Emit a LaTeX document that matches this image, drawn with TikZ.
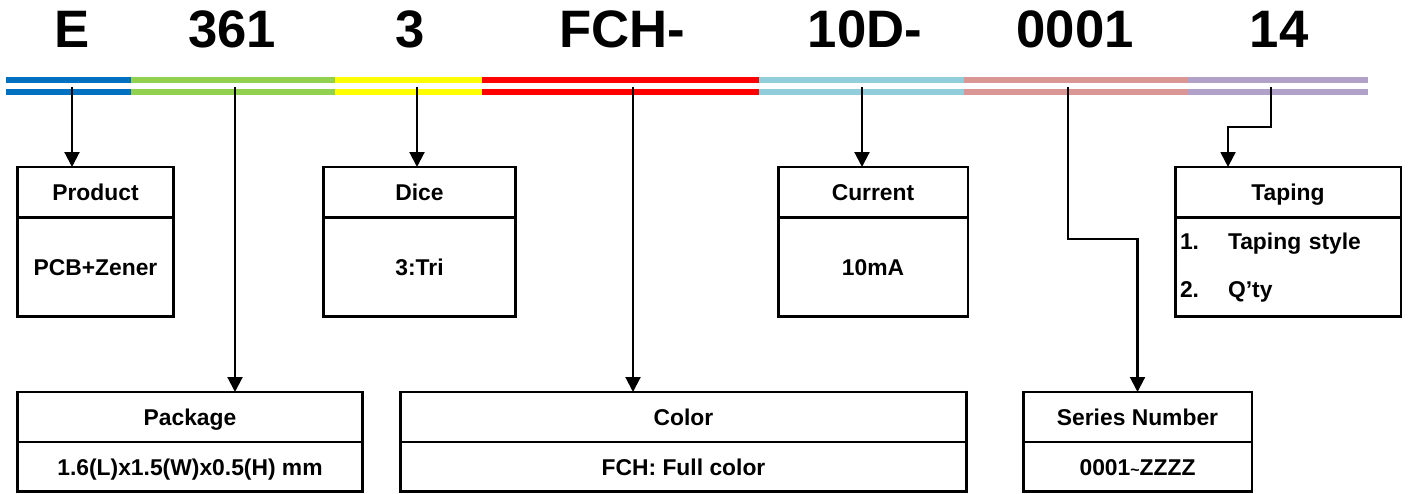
\documentclass[tikz,border=0pt]{standalone}
\usepackage{fontspec}
\setmainfont{Liberation Sans}
\usepackage{xcolor}
\usepackage{tikz}
\usetikzlibrary{arrows.meta, positioning, calc}
\definecolor{barblue}{HTML}{0070C0}
\definecolor{bargreen}{HTML}{92D050}
\definecolor{baryellow}{HTML}{FFFF00}
\definecolor{barred}{HTML}{FF0000}
\definecolor{barcyan}{HTML}{92CDDC}
\definecolor{barrose}{HTML}{DA9694}
\definecolor{barlilac}{HTML}{B1A0C7}

\begin{document}
\begin{tikzpicture}[
  x=0.02cm, y=-0.02cm,
  code/.style={font=\fontsize{30}{36}\selectfont\bfseries, anchor=base, inner sep=0pt},
  bar/.style={line width=0.12cm},
  cellbox/.style={draw, line width=1.7pt, outer sep=0pt, inner sep=0pt, align=center, font=\fontsize{13}{16}\selectfont\bfseries},
  headbox/.style={cellbox, anchor=north, text height=9.3pt, text depth=0pt},
  bodybox/.style={cellbox, text height=9.3pt, text depth=0pt},
  arr/.style={-{Triangle[length=0.3cm, width=0.3cm]}, line width=1.2pt},
]
  \useasboundingbox (0,0) rectangle (1408,493);

  % part number
  \node[code] (cE) at (72,48) {E};
  \node[code] (c361) at (232,48) {361};
  \node[code] (c3) at (410,48) {3};
  \node[code] (cFCH) at (622,48) {FCH-};
  \node[code] (c10D) at (865,48) {10D-};
  \node[code] (c0001) at (1075,48) {0001};
  \node[code] (c14) at (1279,48) {14};

  % coloured double bars
  \draw[bar, barblue] (6,80) -- (131,80) (6,92) -- (131,92);
  \draw[bar, bargreen] (131,80) -- (335,80) (131,92) -- (335,92);
  \draw[bar, baryellow] (335,80) -- (482,80) (335,92) -- (482,92);
  \draw[bar, barred] (482,80) -- (759,80) (482,92) -- (759,92);
  \draw[bar, barcyan] (759,80) -- (964,80) (759,92) -- (964,92);
  \draw[bar, barrose] (964,80) -- (1188,80) (964,92) -- (1188,92);
  \draw[bar, barlilac] (1188,80) -- (1368,80) (1188,92) -- (1368,92);

  \coordinate (tE) at (72,87);
  \coordinate (t361) at (235,87);
  \coordinate (t3) at (417,87);
  \coordinate (tFCH) at (633,87);
  \coordinate (t10D) at (862,87);
  \coordinate (t0001) at (1068,87);
  \coordinate (t14) at (1271,87);

  % upper boxes
  \node[headbox, minimum width=3.14cm, minimum height=1.02cm] (prodh) at (95.5,167) {Product};
  \node[bodybox, minimum width=3.14cm, minimum height=1.98cm, below=0pt of prodh] (prodb) {PCB+Zener};

  \node[headbox, minimum width=3.86cm, minimum height=1.02cm] (diceh) at (419.5,167) {Dice};
  \node[bodybox, minimum width=3.86cm, minimum height=1.98cm, below=0pt of diceh] (diceb) {3:Tri};

  \node[headbox, minimum width=3.8cm, minimum height=1.02cm] (curh) at (873,167) {Current};
  \node[bodybox, minimum width=3.8cm, minimum height=1.98cm, below=0pt of curh] (curb) {10mA};

  \node[headbox, minimum width=4.52cm, minimum height=1.02cm] (taph) at (1288,167) {Taping};
  \node[cellbox, minimum width=4.52cm, minimum height=1.98cm, below=0pt of taph, align=left, text width=4.32cm, font=\fontsize{13}{27}\selectfont\bfseries] (tapb)
    {\makebox[0.96cm][l]{1.}Taping style\\\makebox[0.96cm][l]{2.}Q'ty};

  % lower boxes
  \node[headbox, minimum width=6.92cm, minimum height=1cm] (pkgh) at (190,392) {Package};
  \node[bodybox, minimum width=6.92cm, minimum height=1cm, below=0pt of pkgh] (pkgb) {1.6(L)x1.5(W)x0.5(H) mm};

  \node[headbox, minimum width=11.34cm, minimum height=1cm] (colh) at (683.5,392) {Color};
  \node[bodybox, minimum width=11.34cm, minimum height=1cm, below=0pt of colh] (colb) {FCH: Full color};

  \node[headbox, minimum width=4.58cm, minimum height=1cm] (serh) at (1137.5,392) {Series Number};
  \node[bodybox, minimum width=4.58cm, minimum height=1cm, below=0pt of serh] (serb) {0001{\fontsize{9}{10}\selectfont\textasciitilde}ZZZZ};

  % connectors
  \draw[arr] (tE) -- (tE |- prodh.north);
  \draw[arr] (t361) -- (t361 |- pkgh.north);
  \draw[arr] (t3) -- (t3 |- diceh.north);
  \draw[arr] (tFCH) -- (tFCH |- colh.north);
  \draw[arr] (t10D) -- (t10D |- curh.north);
  \draw[arr] (t0001) -- ++(0,152) -| (serh.north);
  \draw[arr] (t14) -- ++(0,40) -| ($(taph.north west)+(53,0)$);

\end{tikzpicture}
\end{document}
